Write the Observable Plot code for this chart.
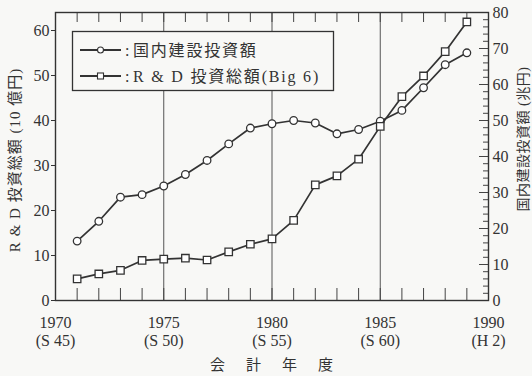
<!DOCTYPE html>
<html><head><meta charset="utf-8">
<script src="https://cdn.jsdelivr.net/npm/d3@7"></script>
<script src="https://cdn.jsdelivr.net/npm/@observablehq/plot@0.6"></script>
<style>
body{margin:0;background:#f8f8f6;}
</style></head><body><div id="chart"></div>
<script>
// ---- data ----
const years = [1971,1972,1973,1974,1975,1976,1977,1978,1979,1980,1981,1982,1983,1984,1985,1986,1987,1988,1989];
// 国内建設投資額 (兆円) — right axis
const construction = [16.5,22.0,28.7,29.4,31.8,35.0,38.9,43.5,47.9,49.1,50.0,49.3,46.3,47.5,49.8,52.8,59.1,65.5,68.8];
// R & D 投資総額 (10億円) — left axis
const rnd = [4.8,5.9,6.7,8.9,9.2,9.4,9.0,10.8,12.5,13.7,17.8,25.7,27.7,31.4,38.7,45.3,49.9,55.3,61.9];
const gridYears = [1975,1980,1985];
const xTickYears = [1970,1975,1980,1985,1990];
const xTickEras = ["S 45","S 50","S 55","S 60","H 2"];
const leftTicks = [0,10,20,30,40,50,60];
const rightTicks = [0,10,20,30,40,50,60,70,80];
const rightMinorTicks = [0,2,4,6,8,10,12,14,16,18,20,22,24,26,28,30,32,34,36,38,40,42,44,46,48,50,52,54,56,58,60,62,64,66,68,70,72,74,76,78,80];
const legendLabels = ["国内建設投資額","R & D 投資総額(Big 6)"];
const leftTitle = "R & D 投資総額 (10 億円)";
const rightTitle = "国内建設投資額 (兆円)";
const xTitle = "会　計　年　度";

// ---- layout ----
const W = 532, H = 376;
const mT = 12, mR = 44, mB = 76, mL = 55;
const FW = W - mL - mR, FH = H - mT - mB;
const leftMax = 64, rightMax = 80, k = leftMax / rightMax;
const ink = "#333";
const bg = "#f8f8f6";
const serif = "'Liberation Serif','Noto Sans CJK JP',serif";

const conData = years.map((y,i)=>({year:y, value:construction[i]}));
const rndData = years.map((y,i)=>({year:y, value:rnd[i]}));

const chart = Plot.plot({
  width: W, height: H,
  marginTop: mT, marginRight: mR, marginBottom: mB, marginLeft: mL,
  x: {domain: [1970, 1990]},
  y: {domain: [0, leftMax]},
  style: {background: bg, color: ink, fontFamily: serif, fontSize: "16px"},
  marks: [
    Plot.ruleX(gridYears, {stroke: "#555", strokeWidth: 1}),
    Plot.ruleX(years, {insetTop: FH - 12, stroke: "#444", strokeWidth: 1}),
    Plot.ruleX(years, {insetBottom: FH - 10, stroke: "#444", strokeWidth: 1}),
    Plot.ruleY(rightMinorTicks, {y: d => d * k, insetLeft: FW - 5, stroke: "#444", strokeWidth: 1}),
    Plot.ruleY(rightTicks, {y: d => d * k, insetLeft: FW - 9, stroke: "#444", strokeWidth: 1}),
    Plot.frame({stroke: ink, strokeWidth: 1.4}),
    Plot.axisY(leftTicks, {anchor: "left", tickSize: 4, tickPadding: 2, label: null, stroke: ink}),
    Plot.axisY(rightTicks.map(d => d * k), {anchor: "right", tickSize: 0, tickPadding: 4, label: null,
      tickFormat: d => String(Math.round(d / k))}),
    Plot.axisX(xTickYears, {anchor: "bottom", tickSize: 0, tickPadding: 15, label: null, lineHeight: 1.1,
      tickFormat: d => `${d}\n(${xTickEras[xTickYears.indexOf(d)]})`}),
    Plot.line(conData, {x: "year", y: d => d.value * k, stroke: ink, strokeWidth: 1.7}),
    Plot.dot(conData, {x: "year", y: d => d.value * k, r: 3.8, fill: "#fff", stroke: ink, strokeWidth: 1.3}),
    Plot.line(rndData, {x: "year", y: "value", stroke: ink, strokeWidth: 1.7}),
    Plot.dot(rndData, {x: "year", y: "value", symbol: "square", r: 4.2, fill: "#fff", stroke: ink, strokeWidth: 1.3})
  ]
});
document.getElementById("chart").appendChild(chart);

// ---- legend & titles ----
const svg = d3.select(chart);
const lg = svg.append("g");
lg.append("rect").attr("x", 72.5).attr("y", 31.5).attr("width", 261).attr("height", 59)
  .attr("fill", bg).attr("stroke", ink).attr("stroke-width", 1.3);
const rowsY = [50, 76];
legendLabels.forEach((lab, i) => {
  const y = rowsY[i];
  lg.append("line").attr("x1", 80).attr("x2", 121).attr("y1", y).attr("y2", y)
    .attr("stroke", ink).attr("stroke-width", 2.2);
  if (i === 0) {
    lg.append("circle").attr("cx", 100.5).attr("cy", y).attr("r", 3).attr("fill", "#fff")
      .attr("stroke", ink).attr("stroke-width", 1.1);
  } else {
    lg.append("rect").attr("x", 97.5).attr("y", y - 3).attr("width", 6).attr("height", 6)
      .attr("fill", "#fff").attr("stroke", ink).attr("stroke-width", 1.1);
  }
  lg.append("text").attr("x", 125).attr("y", y).attr("dy", "0.35em").attr("text-anchor", "start")
    .attr("font-size", 16).attr("font-family", serif).attr("fill", ink).text(":");
  lg.append("text").attr("x", 133).attr("y", y).attr("dy", "0.35em").attr("text-anchor", "start")
    .attr("font-size", 16).attr("font-family", serif).attr("fill", ink)
    .style("letter-spacing", "1.8px").text(lab);
});
svg.append("text").attr("transform", "translate(15,160) rotate(-90)")
  .attr("text-anchor", "middle").attr("dy", "0.35em").attr("font-size", 15)
  .attr("font-family", serif).attr("fill", ink).style("letter-spacing", "1px").text(leftTitle);
svg.append("text").attr("transform", "translate(523,139) rotate(-90)")
  .attr("text-anchor", "middle").attr("dy", "0.35em").attr("font-size", 14)
  .attr("font-family", serif).attr("fill", ink).style("letter-spacing", "0.5px").text(rightTitle);
svg.append("text").attr("x", 273).attr("y", 365)
  .attr("text-anchor", "middle").attr("dy", "0.35em").attr("font-size", 15)
  .attr("font-family", serif).attr("fill", ink).style("letter-spacing", "3px").text(xTitle);
</script></body></html>
